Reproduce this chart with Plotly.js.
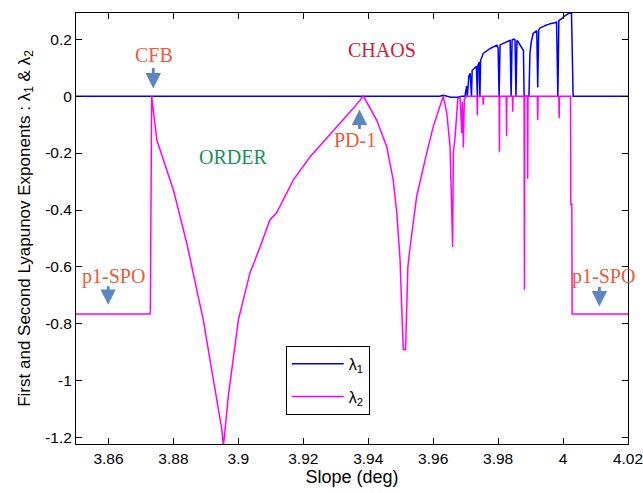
<!DOCTYPE html>
<html>
<head>
<meta charset="utf-8">
<script src="https://cdn.plot.ly/plotly-3.0.1.min.js"></script>
<style>html,body{margin:0;padding:0;background:#fff;}#chart{width:643px;height:493px;}</style>
</head>
<body>
<div id="chart"></div>
<script>
// λ1 (first Lyapunov exponent)
const lambda1X = [3.85, 3.962, 3.9631, 3.9640, 3.9655, 3.9675, 3.9688, 3.9698,
  3.9703, 3.9705, 3.9707, 3.9710, 3.9714, 3.9718, 3.9720, 3.9725, 3.9729, 3.9733, 3.9736, 3.9738,
  3.9742, 3.9744, 3.9746, 3.9750, 3.9754, 3.9760, 3.9765, 3.9770, 3.9775, 3.9780, 3.9785, 3.9790,
  3.9796, 3.9800, 3.9803, 3.9806, 3.9811, 3.9816, 3.9821, 3.9826, 3.9831, 3.9837, 3.9840, 3.9843,
  3.9847, 3.9852, 3.9855, 3.9858, 3.9862, 3.9867, 3.9872, 3.9878, 3.9880, 3.9895, 3.9898, 3.9902,
  3.9908, 3.9913, 3.9919, 3.9922, 3.9925, 3.9930, 3.9934, 3.9940, 3.9945, 3.9950, 3.9955, 3.9960,
  3.9965, 3.9970, 3.9975, 3.9980, 3.9984, 3.9987, 3.9991, 3.9996, 4.0001, 4.0006, 4.0011, 4.0016,
  4.0021, 4.0026, 4.0031, 4.02];
const lambda1Y = [0, 0, 0.003, 0, -0.004, -0.004, 0, 0,
  0.035, 0.0, 0.05, 0.07, 0.08, 0.0, 0.09, 0.095, 0.1, 0.105, 0.0, 0.11,
  0.12, 0.0, 0.125, 0.14, 0.15, 0.155, 0.16, 0.163, 0.167, 0.17, 0.173, 0.176,
  0.179, 0.17, 0.0, 0.18, 0.183, 0.185, 0.188, 0.19, 0.193, 0.196, 0.0, 0.197,
  0.2, 0.198, 0.0, 0.195, 0.19, 0.18, 0.17, 0.16, 0.0, 0.0, 0.15, 0.19,
  0.22, 0.225, 0.23, 0.03, 0.232, 0.24, 0.243, 0.245, 0.248, 0.249, 0.252, 0.254,
  0.255, 0.255, 0.258, 0.26, 0.0, 0.265, 0.267, 0.272, 0.278, 0.283, 0.287, 0.29,
  0.292, 0.29, 0, 0];

// λ2 (second Lyapunov exponent)
const lambda2X = [3.85, 3.8728, 3.8729, 3.8731, 3.8733, 3.8749, 3.8800, 3.8841, 3.8866, 3.8892,
  3.8923, 3.8949, 3.8954, 3.8969, 3.9000, 3.9036, 3.9067, 3.9097, 3.9118, 3.9169,
  3.9221, 3.9272, 3.9323, 3.9354, 3.9385, 3.9426, 3.9457, 3.9477, 3.9488, 3.9498,
  3.9503, 3.9508, 3.9515, 3.9518, 3.9522, 3.9529, 3.9549, 3.9580, 3.9600, 3.9631,
  3.9642, 3.9652, 3.9657, 3.9660, 3.9662, 3.9667, 3.9676, 3.9683, 3.9688, 3.9690,
  3.9693, 3.9696, 3.9703, 3.9735, 3.9736, 3.9737, 3.9753, 3.9754, 3.9755, 3.9803,
  3.9804, 3.9805, 3.9825, 3.9826, 3.9827, 3.9844, 3.9845, 3.9846, 3.9880, 3.9881,
  3.9882, 3.9890, 3.9891, 3.9892, 3.9921, 3.9922, 3.9923, 3.9987, 3.9988, 3.9989,
  4.0023, 4.0024, 4.0027, 4.0028, 4.02];
const lambda2Y = [-0.765, -0.765, -0.75, 0, 0, -0.154, -0.33, -0.516, -0.646, -0.786,
  -0.996, -1.17, -1.23, -1.055, -0.786, -0.62, -0.53, -0.435, -0.41, -0.295,
  -0.213, -0.148, -0.084, -0.043, 0, -0.084, -0.178, -0.295, -0.41, -0.575,
  -0.74, -0.89, -0.89, -0.74, -0.6, -0.53, -0.353, -0.2, -0.108, 0,
  -0.06, -0.178, -0.41, -0.53, -0.2, -0.15, -0.01, -0.005, -0.13, -0.02,
  -0.18, -0.01, 0, 0, -0.067, 0, 0, -0.03, 0, 0,
  -0.195, 0, 0, -0.14, 0, 0, -0.055, 0, 0, -0.68,
  0, 0, -0.29, 0, 0, -0.084, 0, 0, -0.078, 0,
  0, -0.38, -0.38, -0.765, -0.765];

const xTickVals = [3.86, 3.88, 3.9, 3.92, 3.94, 3.96, 3.98, 4, 4.02];
const xTickText = ['3.86', '3.88', '3.9', '3.92', '3.94', '3.96', '3.98', '4', '4.02'];
const yTickVals = [0.2, 0, -0.2, -0.4, -0.6, -0.8, -1, -1.2];
const yTickText = ['0.2', '0', '-0.2', '-0.4', '-0.6', '-0.8', '-1', '-1.2'];

const labelText = ['CFB', 'PD-1', 'ORDER', 'CHAOS', 'p1-SPO', 'p1-SPO'];
const labelX = [3.8741, 3.9359, 3.8983, 3.9442, 3.8614, 4.0123];
const labelY = [0.144, -0.154, -0.214, 0.161, -0.635, -0.635];
const labelColor = ['#EE5A3A', '#EE5A3A', '#18915A', '#D0203A', '#EE5A3A', '#EE5A3A'];

const arrowX = [3.8738, 3.9373, 3.8599, 4.0112];
const arrowY = [0.027, -0.047, -0.733, -0.739];
const arrowDY = [-22, 21, -20, -21];

const traces = [
  {x: lambda1X, y: lambda1Y, type: 'scatter', mode: 'lines', name: 'λ<sub>1</sub>',
   legendgroup: 'a', line: {color: '#0000FF', width: 1.5}},
  {x: lambda2X, y: lambda2Y, type: 'scatter', mode: 'lines', name: 'λ<sub>2</sub>',
   legendgroup: 'b', line: {color: '#FF00FF', width: 1.5}}
];

const annotations = [];
for (let i = 0; i < labelText.length; i++) {
  annotations.push({x: labelX[i], y: labelY[i], xref: 'x', yref: 'y', text: labelText[i],
    showarrow: false, font: {family: 'Liberation Serif, Times New Roman, serif', size: 20, color: labelColor[i]}});
}
for (let i = 0; i < arrowX.length; i++) {
  annotations.push({x: arrowX[i], y: arrowY[i], xref: 'x', yref: 'y', text: '',
    showarrow: true, ax: 0, ay: arrowDY[i], arrowhead: 2, arrowsize: 1.1, arrowwidth: 2.8,
    arrowcolor: '#5A87C0'});
}

const axisCommon = {showline: true, linecolor: '#000', linewidth: 1, mirror: 'ticks',
  ticks: 'inside', ticklen: 6, tickcolor: '#000', showgrid: false, zeroline: false,
  ticklabeloverflow: 'allow',
  tickfont: {family: 'Liberation Sans, Arial, sans-serif', size: 15.5, color: '#000'}};

const layout = {
  width: 643, height: 493,
  margin: {l: 76, r: 15, t: 13, b: 49},
  paper_bgcolor: '#fff', plot_bgcolor: '#fff',
  showlegend: true,
  legend: {x: 0.38, y: 0.228, xanchor: 'left', yanchor: 'top', bgcolor: '#fff',
    bordercolor: '#000', borderwidth: 1, tracegroupgap: 9, itemwidth: 52,
    font: {family: 'Liberation Sans, Arial, sans-serif', size: 16, color: '#000'}},
  xaxis: Object.assign({}, axisCommon, {range: [3.85, 4.02], tickvals: xTickVals, ticktext: xTickText,
    title: {text: 'Slope (deg)', font: {family: 'Liberation Sans, Arial, sans-serif', size: 18, color: '#000'}, standoff: 4}}),
  yaxis: Object.assign({}, axisCommon, {range: [-1.222, 0.292], tickvals: yTickVals, ticktext: yTickText,
    title: {text: 'First and Second Lyapunov Exponents : λ<sub>1</sub> &amp; λ<sub>2</sub>',
      font: {family: 'Liberation Sans, Arial, sans-serif', size: 17, color: '#000'}, standoff: 10}}),
  annotations: annotations
};

Plotly.newPlot('chart', traces, layout, {displayModeBar: false, staticPlot: true});
</script>
</body>
</html>
